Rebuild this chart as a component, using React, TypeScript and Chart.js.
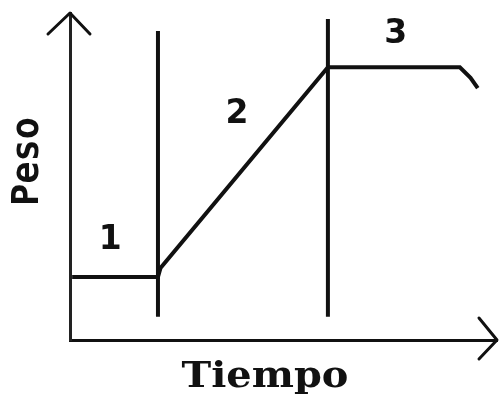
import React, { useEffect, useRef } from "react";
import { Chart, registerables } from "chart.js";

Chart.register(...registerables);

// Weight (Peso) vs time (Tiempo), arbitrary units 0..100
const curveX = [0.5, 20.6, 21.2, 60.4, 91.3, 93.8, 95.5];
const curveY = [19.3, 19.3, 22.0, 83.4, 83.4, 80.2, 77.0];
const divider1X = [20.6, 20.6];
const divider1Y = [7.1, 94.5];
const divider2X = [60.4, 60.4];
const divider2Y = [7.1, 98.2];
const phaseLabels = ["1", "2", "3"];
const phaseLabelX = [9.4, 39.1, 76.3];
const phaseLabelY = [30.5, 69.0, 93.4];
const xTitle = "Tiempo";
const yTitle = "Peso";

const toPts = (xs: number[], ys: number[]) => xs.map((x, i) => ({ x, y: ys[i] }));

const decor = {
  id: "decor",
  afterDraw(chart: any) {
    const { ctx, chartArea, scales } = chart;
    const { left, right, top, bottom } = chartArea;
    ctx.save();
    ctx.strokeStyle = "#111";
    ctx.lineWidth = 3;
    ctx.lineCap = "round";
    ctx.lineJoin = "round";
    // y arrow
    ctx.beginPath();
    ctx.moveTo(left - 22, top + 21);
    ctx.lineTo(left, top);
    ctx.lineTo(left + 20, top + 21);
    ctx.stroke();
    // x arrow
    ctx.beginPath();
    ctx.moveTo(right - 18, bottom - 22);
    ctx.lineTo(right, bottom);
    ctx.lineTo(right - 18, bottom + 19);
    ctx.stroke();
    // phase labels
    ctx.fillStyle = "#111";
    ctx.font = "bold 33px 'DejaVu Sans'";
    ctx.textAlign = "center";
    ctx.textBaseline = "middle";
    phaseLabels.forEach((t, i) => {
      ctx.fillText(t, scales.x.getPixelForValue(phaseLabelX[i]), scales.y.getPixelForValue(phaseLabelY[i]));
    });
    // axis titles
    ctx.save();
    ctx.font = "bold 35px 'DejaVu Serif'";
    ctx.textBaseline = "alphabetic";
    ctx.translate(265, bottom + 47);
    ctx.scale(1.14, 1);
    ctx.fillText(xTitle, 0, 0);
    ctx.restore();
    ctx.save();
    ctx.translate(left - 42, (top + bottom) / 2);
    ctx.rotate(-Math.PI / 2);
    ctx.font = "bold 37px 'DejaVu Sans Mono'";
    ctx.textBaseline = "middle";
    ctx.fillText(yTitle, 15, 0);
    ctx.restore();
    ctx.restore();
  },
};

export default function App() {
  const ref = useRef<HTMLCanvasElement>(null);
  useEffect(() => {
    document.body.style.margin = "0";
    const chart = new Chart(ref.current!, {
      type: "scatter",
      data: {
        datasets: [
          {
            data: toPts(curveX, curveY),
            showLine: true,
            borderColor: "#111",
            borderWidth: 4,
            pointRadius: 0,
            tension: 0,
          },
          {
            data: toPts(divider1X, divider1Y),
            showLine: true,
            borderColor: "#111",
            borderWidth: 4,
            pointRadius: 0,
          },
          {
            data: toPts(divider2X, divider2Y),
            showLine: true,
            borderColor: "#111",
            borderWidth: 4,
            pointRadius: 0,
          },
        ],
      },
      options: {
        responsive: false,
        animation: false,
        layout: { padding: { left: 70, top: 13, right: 2, bottom: 57 } },
        plugins: { legend: { display: false }, tooltip: { enabled: false } },
        scales: {
          x: {
            type: "linear",
            min: 0,
            max: 100,
            grid: { display: false },
            ticks: { display: false },
            border: { display: true, color: "#111", width: 3 },
            afterFit: (s: any) => { s.height = 0; },
          },
          y: {
            type: "linear",
            min: 0,
            max: 100,
            grid: { display: false },
            ticks: { display: false },
            border: { display: true, color: "#222", width: 3 },
            afterFit: (s: any) => { s.width = 0; },
          },
        },
      },
      plugins: [decor],
    });
    return () => chart.destroy();
  }, []);
  return (
    <div style={{ position: "absolute", left: 0, top: 0, background: "#fff" }}>
      <canvas ref={ref} width={499} height={397} />
    </div>
  );
}
